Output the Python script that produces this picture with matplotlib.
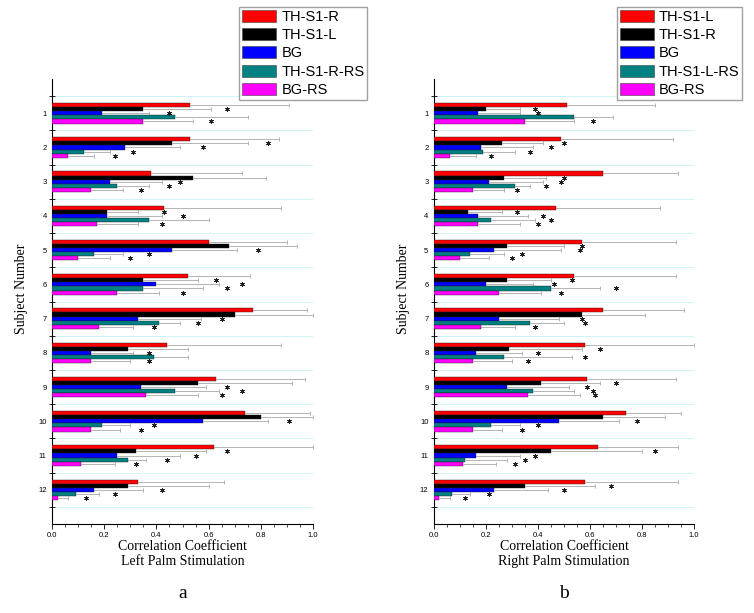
import numpy as np
import matplotlib
matplotlib.use('Agg')
import matplotlib.pyplot as plt
from matplotlib.patches import Patch

# ---- datos ----
subjects = list(range(1, 13))
colors = ['#ff0000', '#000000', '#0000ff', '#008080', '#ff00ff']

left_labels = ['TH-S1-R', 'TH-S1-L', 'BG', 'TH-S1-R-RS', 'BG-RS']
right_labels = ['TH-S1-L', 'TH-S1-R', 'BG', 'TH-S1-L-RS', 'BG-RS']

# Left palm stimulation: mean correlation, error (+), asterisk position
left_th_r = [0.53, 0.53, 0.38, 0.43, 0.60, 0.52, 0.77, 0.44, 0.63, 0.74, 0.62, 0.33]
left_th_l = [0.35, 0.46, 0.54, 0.21, 0.68, 0.35, 0.70, 0.29, 0.56, 0.80, 0.32, 0.29]
left_bg = [0.19, 0.28, 0.22, 0.21, 0.46, 0.40, 0.33, 0.15, 0.34, 0.58, 0.25, 0.16]
left_th_r_rs = [0.47, 0.12, 0.25, 0.37, 0.16, 0.35, 0.41, 0.39, 0.47, 0.19, 0.29, 0.09]
left_bg_rs = [0.35, 0.06, 0.15, 0.17, 0.10, 0.25, 0.18, 0.15, 0.36, 0.15, 0.11, 0.02]

left_th_r_err = [0.38, 0.34, 0.35, 0.45, 0.30, 0.24, 0.21, 0.44, 0.34, 0.25, 0.38, 0.33]
left_th_l_err = [0.26, 0.29, 0.28, 0.12, 0.26, 0.21, 0.30, 0.23, 0.36, 0.20, 0.27, 0.31]
left_bg_err = [0.18, 0.21, 0.20, 0.21, 0.25, 0.24, 0.24, 0.16, 0.25, 0.25, 0.24, 0.19]
left_th_r_rs_err = [0.28, 0.10, 0.12, 0.23, 0.11, 0.23, 0.08, 0.13, 0.17, 0.11, 0.07, 0.09]
left_bg_rs_err = [0.19, 0.10, 0.12, 0.16, 0.12, 0.16, 0.13, 0.15, 0.20, 0.11, 0.13, 0.04]

left_th_r_star = [None] * 12
left_th_l_star = [0.67, 0.83, None, 0.43, None, 0.63, None, None, None, None, 0.67, None]
left_bg_star = [0.45, 0.58, 0.49, 0.50, 0.79, 0.73, 0.65, 0.37, 0.67, 0.91, 0.55, 0.42]
left_th_r_rs_star = [None, 0.31, 0.45, None, 0.37, 0.67, 0.56, None, 0.73, 0.39, 0.44, 0.24]
left_bg_rs_star = [0.61, 0.24, 0.34, 0.42, 0.30, 0.50, 0.39, 0.37, 0.65, 0.34, 0.32, 0.13]

# Right palm stimulation
right_th_l = [0.51, 0.49, 0.65, 0.47, 0.57, 0.54, 0.65, 0.58, 0.59, 0.74, 0.63, 0.58]
right_th_r = [0.20, 0.26, 0.27, 0.13, 0.28, 0.28, 0.57, 0.29, 0.41, 0.65, 0.45, 0.35]
right_bg = [0.17, 0.18, 0.21, 0.17, 0.23, 0.20, 0.25, 0.16, 0.28, 0.48, 0.16, 0.23]
right_th_l_rs = [0.54, 0.19, 0.31, 0.22, 0.14, 0.45, 0.37, 0.27, 0.38, 0.22, 0.12, 0.07]
right_bg_rs = [0.35, 0.06, 0.15, 0.17, 0.10, 0.25, 0.18, 0.15, 0.36, 0.15, 0.11, 0.02]

right_th_l_err = [0.34, 0.43, 0.29, 0.40, 0.36, 0.39, 0.31, 0.42, 0.34, 0.21, 0.31, 0.36]
right_th_r_err = [0.13, 0.16, 0.16, 0.13, 0.22, 0.17, 0.24, 0.28, 0.23, 0.24, 0.35, 0.27]
right_bg_err = [0.16, 0.20, 0.21, 0.19, 0.26, 0.18, 0.23, 0.18, 0.24, 0.23, 0.17, 0.21]
right_th_l_rs_err = [0.15, 0.12, 0.06, 0.17, 0.13, 0.19, 0.13, 0.26, 0.16, 0.11, 0.16, 0.07]
right_bg_rs_err = [0.19, 0.10, 0.12, 0.16, 0.11, 0.16, 0.13, 0.15, 0.20, 0.11, 0.13, 0.04]

right_th_l_star = [None] * 12
right_th_r_star = [0.39, 0.50, 0.50, 0.32, 0.57, 0.53, None, 0.64, 0.70, None, 0.85, 0.68]
right_bg_star = [0.40, 0.45, 0.49, 0.42, 0.56, 0.46, 0.57, 0.40, 0.59, 0.78, 0.39, 0.50]
right_th_l_rs_star = [None, 0.37, 0.43, 0.45, 0.34, 0.70, 0.58, 0.58, 0.61, 0.40, 0.35, 0.21]
right_bg_rs_star = [0.61, 0.22, 0.32, 0.40, 0.30, 0.49, 0.39, 0.36, 0.62, 0.34, 0.31, 0.12]

W, H = 754, 613
sans = 'Liberation Sans'
serif = 'Liberation Serif'


def draw_panel(ax, means, errs, stars):
    offsets = [-0.24, -0.12, 0.0, 0.12, 0.24]
    y0 = np.array(subjects, dtype=float)

    # lineas guia cian entre sujetos
    for yy in np.arange(0.5, 13, 1.0):
        ax.axhline(yy, color='#c8f2f2', linewidth=0.6, zorder=0)

    for k in range(5):
        y = y0 + offsets[k]
        m = np.array(means[k])
        ends = m + np.array(errs[k])
        ax.hlines(y, m, ends, colors='#a8a8a8', linewidth=0.6, zorder=2)
        ax.plot(ends, y, '|', color='#a8a8a8', ms=3, mew=0.6, zorder=2)
        ax.barh(y, m, height=0.12, color=colors[k], edgecolor='#202020',
                linewidth=0.3, zorder=3)
        sx = [s for s in stars[k] if s is not None]
        sy = [yy for yy, s in zip(y, stars[k]) if s is not None]
        ax.plot(sx, sy, ls='none', marker=(6, 2, 0), ms=3.4, mew=0.55,
                color='#202020', zorder=4)

    ax.set_xlim(0, 1.0)
    ax.set_ylim(13, 0)
    ax.spines['top'].set_visible(False)
    ax.spines['right'].set_visible(False)
    ax.spines['left'].set_linewidth(0.8)
    ax.spines['bottom'].set_linewidth(0.8)

    ax.set_xticks(np.arange(0, 1.01, 0.2))
    ax.set_xticklabels([f'{v:.1f}' for v in np.arange(0, 1.01, 0.2)])
    ax.set_xticks(np.arange(0, 1.001, 0.05), minor=True)
    ax.tick_params(axis='x', which='major', direction='out', length=3.5,
                   width=0.6, labelsize=5.5, pad=2)
    ax.tick_params(axis='x', which='minor', direction='out', length=2, width=0.5)

    ax.set_yticks(np.arange(0.5, 13, 1.0))
    ax.set_yticklabels([])
    ax.set_yticks(subjects, minor=True)
    ax.set_yticklabels([str(s) for s in subjects], minor=True)
    ax.tick_params(axis='y', which='major', direction='inout', length=4, width=0.6)
    ax.tick_params(axis='y', which='minor', length=0, labelsize=5.5, pad=4)
    for lab in ax.get_xticklabels() + ax.get_yticklabels(minor=True):
        lab.set_family(sans)


fig = plt.figure(figsize=(W / 100, H / 100), dpi=100)

ax_l = fig.add_axes([52.3 / W, 1 - 524 / H, 260.4 / W, 445 / H])
ax_r = fig.add_axes([434 / W, 1 - 524 / H, 260 / W, 445 / H])

draw_panel(ax_l,
           [left_th_r, left_th_l, left_bg, left_th_r_rs, left_bg_rs],
           [left_th_r_err, left_th_l_err, left_bg_err, left_th_r_rs_err, left_bg_rs_err],
           [left_th_r_star, left_th_l_star, left_bg_star, left_th_r_rs_star, left_bg_rs_star])
draw_panel(ax_r,
           [right_th_l, right_th_r, right_bg, right_th_l_rs, right_bg_rs],
           [right_th_l_err, right_th_r_err, right_bg_err, right_th_l_rs_err, right_bg_rs_err],
           [right_th_l_star, right_th_r_star, right_bg_star, right_th_l_rs_star, right_bg_rs_star])

# leyendas
for labels, x0 in [(left_labels, 239.3), (right_labels, 617)]:
    handles = [Patch(facecolor=c, edgecolor='#404040', linewidth=0.4) for c in colors]
    fig.legend(handles, labels, loc='upper left', bbox_to_anchor=(x0 / W, 1 - 7 / H),
               frameon=True, fancybox=False, edgecolor='#a0a0a0', framealpha=1,
               prop={'family': sans, 'size': 10.5}, handlelength=2.35, handleheight=0.9,
               handletextpad=0.35, labelspacing=0.29, borderpad=0.18,
               borderaxespad=0)

# etiquetas de ejes
for xc, txt, tag in [(182.5, 'Correlation Coefficient\nLeft Palm Stimulation', 'a'),
                     (564, 'Correlation Coefficient\nRight Palm Stimulation', 'b')]:
    fig.text(xc / W, 1 - 540 / H, txt, ha='center', va='top', family=serif,
             fontsize=10, linespacing=1.2)
    fig.text(xc / W, 1 - 598 / H, tag, ha='center', va='baseline', family=serif,
             fontsize=14)

fig.text(22 / W, 1 - 289 / H, 'Subject Number', rotation=90, ha='center',
         va='center', family=serif, fontsize=10)
fig.text(404 / W, 1 - 289 / H, 'Subject Number', rotation=90, ha='center',
         va='center', family=serif, fontsize=10)

fig.savefig('out.png', dpi=100)
print('guardado out.png')
